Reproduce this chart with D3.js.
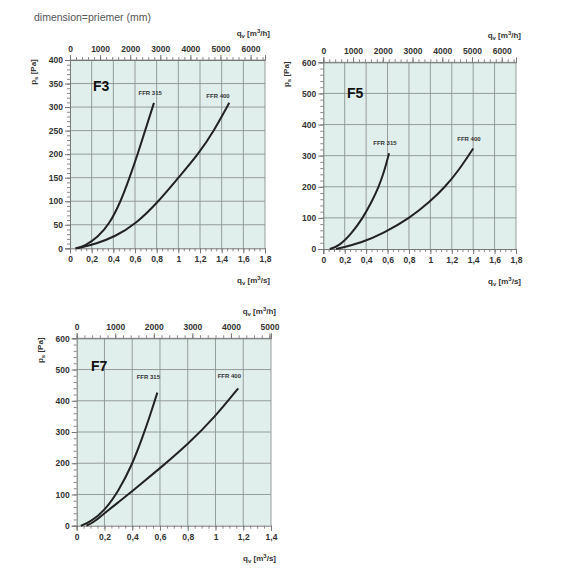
<!DOCTYPE html>
<html lang="sk">
<head>
<meta charset="utf-8">
<title>F3 F5 F7</title>
<script src="https://cdn.jsdelivr.net/npm/d3@7"></script>
<style>
  body { margin: 0; background: #fff; }
  svg text { font-family: "Liberation Sans", Arial, sans-serif; }
  .tick text { font-size: 8.5px; fill: #333; font-weight: bold; }
  .domain { stroke: #777; }
</style>
</head>
<body>
<svg id="chart" width="576" height="576"></svg>
<script>
// filter class names and fan series, [q m3/s, ps Pa]
var names = ["F3", "F5", "F7"];
var series = ["FFR 315", "FFR 400"];

var f3_ffr315 = [[0.05,0],[0.14,5],[0.26,25],[0.36,50],[0.47,100],[0.55,150],[0.625,200],[0.70,255],[0.775,309]];
var f3_ffr400 = [[0.07,0],[0.246,10],[0.415,25],[0.6,50],[0.82,100],[1.0,150],[1.185,200],[1.33,250],[1.47,309]];
var f5_ffr315 = [[0.06,0],[0.15,10],[0.265,50],[0.37,100],[0.45,150],[0.518,200],[0.57,250],[0.614,308]];
var f5_ffr400 = [[0.12,0],[0.358,20],[0.56,50],[0.81,100],[0.99,150],[1.14,200],[1.27,255],[1.4,323]];
var f7_ffr315 = [[0.03,0],[0.1,12],[0.2,48],[0.3,110],[0.4,195],[0.48,290],[0.53,355],[0.581,426]];
var f7_ffr400 = [[0.07,0],[0.12,10],[0.2,40],[0.3,75],[0.4,110],[0.6,184],[0.8,260],[1.0,350],[1.164,440]];

// label anchors [q, ps]
var f3_labels = [[0.74,326],[1.366,319]];
var f5_labels = [[0.576,334],[1.36,347]];
var f7_labels = [[0.516,469],[1.10,472]];

// axis ranges
var qMax = [1.8, 1.8, 1.4];
var pMax = [400, 600, 600];
var pStep = [50, 100, 100];
var pMinor = [10, 20, 20];
var hMax = [6000, 6000, 5000];

// boxes on the page
var boxes = [
  {x0: 70, x1: 265, y0: 60, y1: 248.3, nameX: 93, nameY: 91},
  {x0: 323.3, x1: 516, y0: 62.3, y1: 249, nameX: 347, nameY: 98},
  {x0: 76.7, x1: 271, y0: 338.3, y1: 525.7, nameX: 91, nameY: 371}
];
var curves = [[f3_ffr315, f3_ffr400], [f5_ffr315, f5_ffr400], [f7_ffr315, f7_ffr400]];
var labels = [f3_labels, f5_labels, f7_labels];

var svg = d3.select("#chart");
var comma = function(d) { return String(d).replace(".", ","); };

svg.append("text")
  .attr("x", 34).attr("y", 21)
  .attr("font-size", 10.5).attr("fill", "#555")
  .text("dimension=priemer (mm)");

names.forEach(function(name, i) {
  var b = boxes[i];
  var g = svg.append("g");
  var x = d3.scaleLinear().domain([0, qMax[i]]).range([b.x0, b.x1]);
  var xh = d3.scaleLinear().domain([0, qMax[i] * 3600]).range([b.x0, b.x1]);
  var y = d3.scaleLinear().domain([0, pMax[i]]).range([b.y1, b.y0]);

  g.append("rect")
    .attr("x", b.x0).attr("y", b.y0)
    .attr("width", b.x1 - b.x0).attr("height", b.y1 - b.y0)
    .attr("fill", "#e0efec");

  // grid
  g.selectAll(".gv").data(d3.range(0.2, qMax[i] + 0.001, 0.2))
    .enter().append("line")
    .attr("x1", function(d) { return x(d); }).attr("x2", function(d) { return x(d); })
    .attr("y1", b.y0).attr("y2", b.y1)
    .attr("stroke", "#8c9390").attr("stroke-width", 0.9);
  g.selectAll(".gh").data(d3.range(pStep[i], pMax[i] + 1, pStep[i]))
    .enter().append("line")
    .attr("y1", function(d) { return y(d); }).attr("y2", function(d) { return y(d); })
    .attr("x1", b.x0).attr("x2", b.x1)
    .attr("stroke", "#8c9390").attr("stroke-width", 0.9);

  // minor ticks
  var minorQ = d3.range(0, qMax[i] + 0.001, 0.05);
  g.append("g").attr("transform", "translate(0," + b.y1 + ")")
    .call(d3.axisBottom(x).tickValues(minorQ).tickSize(3).tickFormat(""))
    .call(function(s) { s.selectAll("line").attr("stroke", "#888"); s.select(".domain").remove(); });
  var minorP = d3.range(0, pMax[i] + 1, pMinor[i]);
  g.append("g").attr("transform", "translate(" + b.x0 + ",0)")
    .call(d3.axisLeft(y).tickValues(minorP).tickSize(3).tickFormat(""))
    .call(function(s) { s.selectAll("line").attr("stroke", "#888"); s.select(".domain").remove(); });
  var minorH = d3.range(0, qMax[i] * 3600, 200);
  g.append("g").attr("transform", "translate(0," + b.y0 + ")")
    .call(d3.axisTop(xh).tickValues(minorH).tickSize(3).tickFormat(""))
    .call(function(s) { s.selectAll("line").attr("stroke", "#888"); s.select(".domain").remove(); });

  // major axes
  g.append("g").attr("transform", "translate(0," + b.y1 + ")")
    .call(d3.axisBottom(x).tickValues(d3.range(0, qMax[i] + 0.001, 0.2).map(function(d) { return +d.toFixed(1); }))
      .tickSize(5).tickPadding(3).tickFormat(comma))
    .call(function(s) { s.selectAll("line").attr("stroke", "#777"); });
  g.append("g").attr("transform", "translate(" + b.x0 + ",0)")
    .call(d3.axisLeft(y).tickValues(d3.range(0, pMax[i] + 1, pStep[i])).tickSize(5).tickPadding(2))
    .call(function(s) { s.selectAll("line").attr("stroke", "#777"); });
  g.append("g").attr("transform", "translate(0," + b.y0 + ")")
    .call(d3.axisTop(xh).tickValues(d3.range(0, hMax[i] + 1, 1000)).tickSize(5).tickPadding(3)
      .tickFormat(d3.format("d")))
    .call(function(s) { s.selectAll("line").attr("stroke", "#777"); });

  // axis titles
  var t1 = g.append("text").attr("x", b.x1 + 5).attr("y", b.y1 + 35)
    .attr("text-anchor", "end").attr("font-size", 8).attr("font-weight", "bold").attr("fill", "#333");
  t1.append("tspan").text("q");
  t1.append("tspan").attr("font-size", 6).attr("dy", 2).text("v");
  t1.append("tspan").attr("dy", -2).text(" [m");
  t1.append("tspan").attr("font-size", 6).attr("dy", -3).text("3");
  t1.append("tspan").attr("dy", 3).text("/s]");

  var t2 = g.append("text").attr("x", b.x1 + 5).attr("y", b.y0 - 24)
    .attr("text-anchor", "end").attr("font-size", 8).attr("font-weight", "bold").attr("fill", "#333");
  t2.append("tspan").text("q");
  t2.append("tspan").attr("font-size", 6).attr("dy", 2).text("v");
  t2.append("tspan").attr("dy", -2).text(" [m");
  t2.append("tspan").attr("font-size", 6).attr("dy", -3).text("3");
  t2.append("tspan").attr("dy", 3).text("/h]");

  var t3 = g.append("text")
    .attr("transform", "translate(" + (b.x0 - 34) + "," + (b.y0 + 12) + ") rotate(-90)")
    .attr("text-anchor", "middle").attr("font-size", 8).attr("font-weight", "bold").attr("fill", "#333");
  t3.append("tspan").text("p");
  t3.append("tspan").attr("font-size", 6).attr("dy", 2).text("s");
  t3.append("tspan").attr("dy", -2).text(" [Pa]");

  // curves
  var line = d3.line()
    .x(function(d) { return x(d[0]); })
    .y(function(d) { return y(d[1]); })
    .curve(d3.curveBasis);
  g.selectAll(".curve").data(curves[i]).enter().append("path")
    .attr("d", line)
    .attr("fill", "none").attr("stroke", "#222").attr("stroke-width", 2);

  g.selectAll(".lab").data(labels[i]).enter().append("text")
    .attr("x", function(d) { return x(d[0]); })
    .attr("y", function(d) { return y(d[1]); })
    .attr("text-anchor", "middle").attr("font-size", 6).attr("font-weight", "bold").attr("fill", "#333")
    .text(function(d, j) { return series[j]; });

  g.append("text").attr("x", b.nameX).attr("y", b.nameY)
    .attr("font-size", 14).attr("font-weight", "bold").attr("fill", "#111")
    .text(name);
});
</script>
</body>
</html>
